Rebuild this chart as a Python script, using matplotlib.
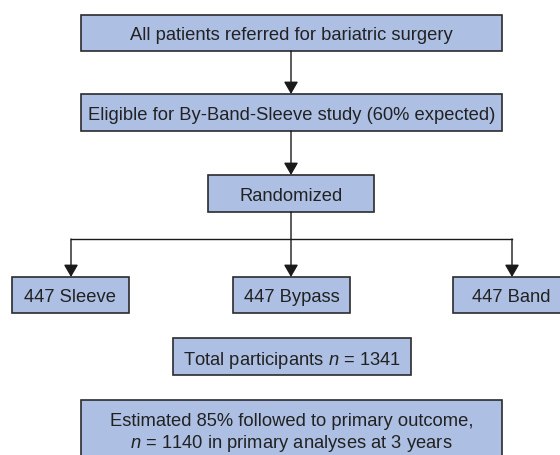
"""Flowchart: By-Band-Sleeve trial recruitment."""

import matplotlib
matplotlib.use("Agg")
import matplotlib.pyplot as plt
from matplotlib.patches import Rectangle, FancyArrowPatch

plt.rcParams["font.family"] = ["Liberation Sans", "DejaVu Sans"]
plt.rcParams["mathtext.fontset"] = "custom"
plt.rcParams["mathtext.rm"] = "Liberation Sans"
plt.rcParams["mathtext.it"] = "Liberation Sans:italic"

# textos das caixas
etapas = [
    "All patients referred for bariatric surgery",
    "Eligible for By-Band-Sleeve study (60% expected)",
    "Randomized",
]
bracos = ["Sleeve", "Bypass", "Band"]
n_braco = [447, 447, 447]
n_total = sum(n_braco)
pct_seguimento = 85
n_analise = 1140
anos = 3

FILL = "#adbfe3"
EDGE = "#2b2b2e"
FS = 13.2

fig = plt.figure(figsize=(5.6, 4.55), dpi=100)
ax = fig.add_axes([0, 0, 1, 1])
ax.set_xlim(0, 560)
ax.set_ylim(455, 0)
ax.axis("off")


def caixa(x0, y0, x1, y1, texto, yt=None):
    ax.add_patch(Rectangle((x0, y0), x1 - x0, y1 - y0, facecolor=FILL,
                           edgecolor=EDGE, linewidth=1.2, clip_on=True))
    if yt is None:
        yt = (y0 + y1) / 2 + 1
    ax.text((x0 + x1) / 2, yt, texto, ha="center",
            va="center_baseline", fontsize=FS, color="#222222",
            linespacing=1.2)


def seta(x, y0, y1):
    ax.add_patch(FancyArrowPatch((x, y0), (x, y1),
                                 arrowstyle="-|>,head_length=0.62,head_width=0.36",
                                 mutation_scale=12, color="#1a1a1a",
                                 linewidth=1.0, shrinkA=0, shrinkB=0))


caixa(81, 15, 502, 51, etapas[0])
caixa(81, 94, 502, 131, etapas[1])
caixa(208, 175, 374, 212, etapas[2])

seta(291, 51, 94)
seta(291, 131, 175)
seta(291, 212, 277)
ax.plot([71, 512], [239, 239], color="#1a1a1a", linewidth=1.0)
seta(71, 239, 277)
seta(512, 239, 277)

for xc, nome, n in zip([70.5, 291.5, 511.5], bracos, n_braco):
    caixa(xc - 58.5, 277, xc + 58.5, 313, f"{n} {nome}")

caixa(173, 338, 411, 375, f"Total participants $n$ = {n_total}")
caixa(81, 400, 502, 470,
      f"Estimated {pct_seguimento}% followed to primary outcome,\n"
      f"$n$ = {n_analise} in primary analyses at {anos} years", yt=429)

fig.savefig("out.png", dpi=100)
